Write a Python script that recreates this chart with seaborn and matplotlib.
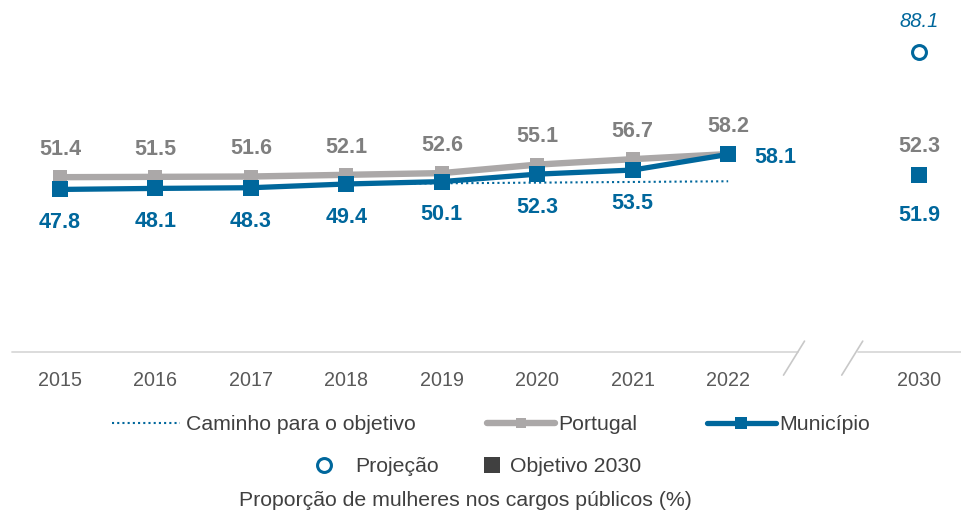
import pandas as pd
import seaborn as sns
import matplotlib.pyplot as plt
from matplotlib.lines import Line2D

# data
years = [2015, 2016, 2017, 2018, 2019, 2020, 2021, 2022]
portugal = [51.4, 51.5, 51.6, 52.1, 52.6, 55.1, 56.7, 58.2]
municipio = [47.8, 48.1, 48.3, 49.4, 50.1, 52.3, 53.5, 58.1]
path_years = [2018, 2022]
path_values = [49.4, 50.2]
target_year = 2030
target_portugal = 52.3
target_municipio = 51.9
projection = 88.1
tick_years = years + [target_year]

GRAY_LINE = '#ABA8A8'
GRAY_TEXT = '#7F7F7F'
BLUE = '#00679C'
AXIS = '#D9D9D9'
TICK = '#595959'


def pos(y):
    # the axis is broken between 2022 and 2030
    return y - 2015 if y <= 2022 else 9


sns.set_theme(style='white')
plt.rcParams['font.family'] = ['Liberation Sans', 'DejaVu Sans']

fig = plt.figure(figsize=(9.62, 5.14), dpi=100)
ax = fig.add_axes([0, 162 / 514, 1, 352 / 514])

df = pd.DataFrame({'pos': [pos(y) for y in years],
                   'Portugal': portugal, 'Município': municipio})

sns.lineplot(data=df, x='pos', y='Portugal', ax=ax, color=GRAY_LINE, lw=4.6,
             marker='s', markersize=10, markeredgewidth=0)
sns.lineplot(x=[pos(y) for y in path_years], y=path_values, ax=ax, color=BLUE,
             lw=1.5, linestyle=(0, (1, 1.5)))
sns.lineplot(data=df, x='pos', y='Município', ax=ax, color=BLUE, lw=3.8,
             marker='s', markersize=11, markeredgewidth=0)

# 2030 points
ax.plot(pos(target_year), target_municipio, marker='s', ms=11, color=BLUE, mew=0, ls='none')
ax.plot(pos(target_year), projection, marker='o', ms=10, mfc='white', mec=BLUE, mew=2.2, ls='none')

lbl = dict(fontsize=15.5, fontweight='bold', ha='center', va='center', textcoords='offset points')
for y, p, m in zip(years, portugal, municipio):
    x = pos(y)
    ax.annotate(f'{p:.1f}', (x, p), xytext=(0, 20), color=GRAY_TEXT, **lbl)
    if y == 2022:
        ax.annotate(f'{m:.1f}', (x, m), xytext=(34, -2), color=BLUE, **lbl)
    else:
        ax.annotate(f'{m:.1f}', (x, m), xytext=(0, -24), color=BLUE, **lbl)

xt = pos(target_year)
ax.annotate(f'{target_portugal:.1f}', (xt, target_portugal), xytext=(0, 20), color=GRAY_TEXT, **lbl)
ax.annotate(f'{target_municipio:.1f}', (xt, target_municipio), xytext=(0, -29), color=BLUE, **lbl)
ax.annotate(f'{projection:.1f}', (xt, projection), xytext=(0, 22), color=BLUE, fontsize=14.5,
            fontstyle='italic', ha='center', va='center', textcoords='offset points')

ax.set_xlim(-0.629, 9.45)
ax.set_ylim(0, 103.5)
ax.set_xticks([pos(y) for y in tick_years])
ax.set_xticklabels([str(y) for y in tick_years])
ax.tick_params(axis='x', length=0, pad=14, labelsize=14.2, labelcolor=TICK)
ax.set_yticks([])
ax.set_xlabel('')
ax.set_ylabel('')
for s in ax.spines.values():
    s.set_visible(False)

# broken axis line
ax.plot([-0.5, 7.73], [0, 0], color=AXIS, lw=1.3, clip_on=False)
ax.plot([8.36, 9.45], [0, 0], color=AXIS, lw=1.3, clip_on=False)
ax.plot([7.58, 7.80], [-6.8, 3.2], color='#C8C8C8', lw=1.2, clip_on=False)
ax.plot([8.19, 8.41], [-6.8, 3.2], color='#C8C8C8', lw=1.2, clip_on=False)

# legends
fs = 15.3
fpx = fs * 100 / 72
items = [
    (Line2D([], [], color=BLUE, lw=1.5, linestyle=(0, (1, 1.5))), 'Caminho para o objetivo', 112, 425, 68, 6),
    (Line2D([], [], color=GRAY_LINE, lw=4.6, marker='s', ms=7, mew=0), 'Portugal', 487, 425, 68, 3),
    (Line2D([], [], color=BLUE, lw=3.8, marker='s', ms=8, mew=0), 'Município', 707, 425, 69, 3),
    (Line2D([], [], color=BLUE, marker='o', ms=10, mfc='white', mew=2.2, ls='none'), 'Projeção', 314, 467, 20, 21),
    (Line2D([], [], color='#404040', marker='s', ms=12, mew=0, ls='none'), 'Objetivo 2030', 482, 467, 20, 8),
]
for h, t, x0, y0, hl, gap in items:
    fig.legend([h], [t], loc='center left', bbox_to_anchor=(x0 / 962, 1 - y0 / 514),
               frameon=False, fontsize=fs, borderpad=0, borderaxespad=0,
               handlelength=hl / fpx, handletextpad=gap / fpx, labelcolor='#404040')

fig.text(465 / 962, 1 - 501 / 514, 'Proporção de mulheres nos cargos públicos (%)',
         ha='center', va='center', fontsize=15.3, color='#404040')

fig.savefig('out.png', dpi=100)
